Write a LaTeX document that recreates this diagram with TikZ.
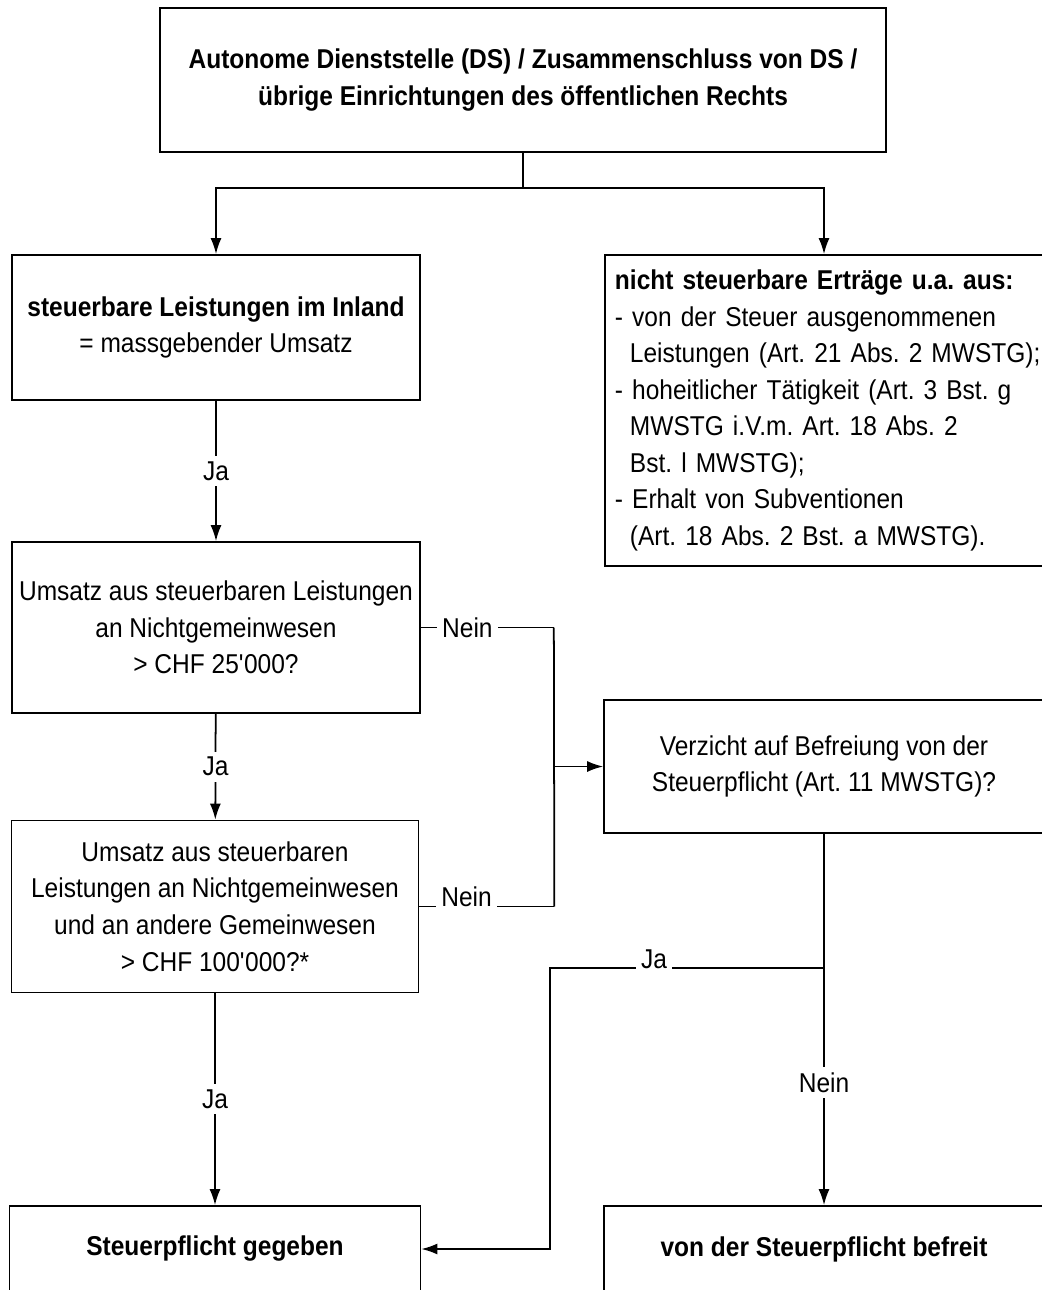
\documentclass[tikz,border=0pt]{standalone}
\usepackage{fontspec}
\setmainfont{Liberation Sans}[FakeStretch=0.9]
\usetikzlibrary{positioning, arrows.meta}
\newcommand\chartfont{\fontsize{15.5}{20.8}\selectfont\spaceskip 0.25em plus 0.1em minus 0.05em\relax}

\begin{document}
\frenchspacing
\begin{tikzpicture}[x=0.02cm, y=-0.02cm,
  box/.style={draw, line width=1pt, align=center, inner sep=0pt, font=\chartfont},
  boldbox/.style={box, font=\chartfont\bfseries},
  conn/.style={line width=1pt},
  arr/.style={-{Latex[length=3.2mm, width=2.2mm]}, line width=1pt},
  lbl/.style={fill=white, inner sep=3pt, font=\fontsize{15.5}{17}\selectfont}
]
\useasboundingbox (0,0) rectangle (1041,1290);

\node[boldbox, minimum width=14.52cm, minimum height=2.88cm] (org) at (523,80)
  {Autonome Dienststelle (DS) / Zusammenschluss von DS /\\übrige Einrichtungen des öffentlichen Rechts};

\node[box, minimum width=8.16cm, minimum height=2.9cm] (taxable) at (216,327.5)
  {\textbf{steuerbare Leistungen im Inland}\\= massgebender Umsatz};
\node[box, align=left, text width=9.2cm, inner xsep=0.2cm, minimum height=6.22cm] (nontax) at (1041,410.5) [anchor=west, xshift=-8.74cm]
  {\hyphenpenalty=10000 \textbf{nicht steuerbare Erträge u.a. aus:}\\
   - von der Steuer ausgenommenen\\
   \hspace*{0.3cm}Leistungen (Art. 21 Abs. 2 MWSTG);\\
   - hoheitlicher Tätigkeit (Art. 3 Bst. g\\
   \hspace*{0.3cm}MWSTG i.V.m. Art. 18 Abs. 2\\
   \hspace*{0.3cm}Bst. l MWSTG);\\
   - Erhalt von Subventionen\\
   \hspace*{0.3cm}(Art. 18 Abs. 2 Bst. a MWSTG).};

\node[box, minimum width=8.16cm, minimum height=3.42cm] (turnA) at (216,627.5)
  {Umsatz aus steuerbaren Leistungen\\an Nichtgemeinwesen\\> CHF 25\textquotesingle 000?};
\node[box, minimum width=8.8cm, minimum height=2.66cm] (waiver) at (824,766.5)
  {Verzicht auf Befreiung von der\\Steuerpflicht (Art. 11 MWSTG)?};
\node[box, minimum width=8.14cm, minimum height=3.44cm] (turnB) at (215,906.5)
  {Umsatz aus steuerbaren\\Leistungen an Nichtgemeinwesen\\und an andere Gemeinwesen\\> CHF 100\textquotesingle 000?*};

\node[boldbox, minimum width=8.22cm, minimum height=1.72cm] (liable) at (215,1249) {Steuerpflicht gegeben};
\node[boldbox, minimum width=8.8cm, minimum height=1.72cm] (exempt) at (824,1249) {von der Steuerpflicht befreit};

% top split
\draw[conn] (org.south) -- ++(0,35) coordinate (split);
\draw[arr] (split) -| (taxable);
\draw[arr] (split) -| (waiver.north |- nontax.north);

% left column
\draw[arr] (taxable) -- node[lbl] {Ja} (turnA);
\draw[arr] (turnA) -- node[lbl] {Ja} (turnB);
\draw[arr] (turnB) -- node[lbl] {Ja} (liable);

% Nein branches
\draw[conn] (turnA.east) -- node[lbl, pos=0.35] {Nein} ++(133,0) coordinate (neinA);
\draw[conn] (turnB.east) -- node[lbl, anchor=base, pos=0.35] {Nein} ++(135,0) coordinate (neinB);
\draw[conn] (neinA) -- (neinB);
\coordinate (join) at (neinA |- waiver.west);
\draw[arr] (join) -- (waiver);

% waiver decision
\draw[arr] (waiver) -- node[lbl, pos=0.67] {Nein} (exempt);
\coordinate (jaFork) at (waiver.south |- 0,968);
\draw[arr] (jaFork) -- node[lbl, anchor=base, pos=0.62] {Ja} ++(-274,0) |- (liable);
\end{tikzpicture}
\end{document}
